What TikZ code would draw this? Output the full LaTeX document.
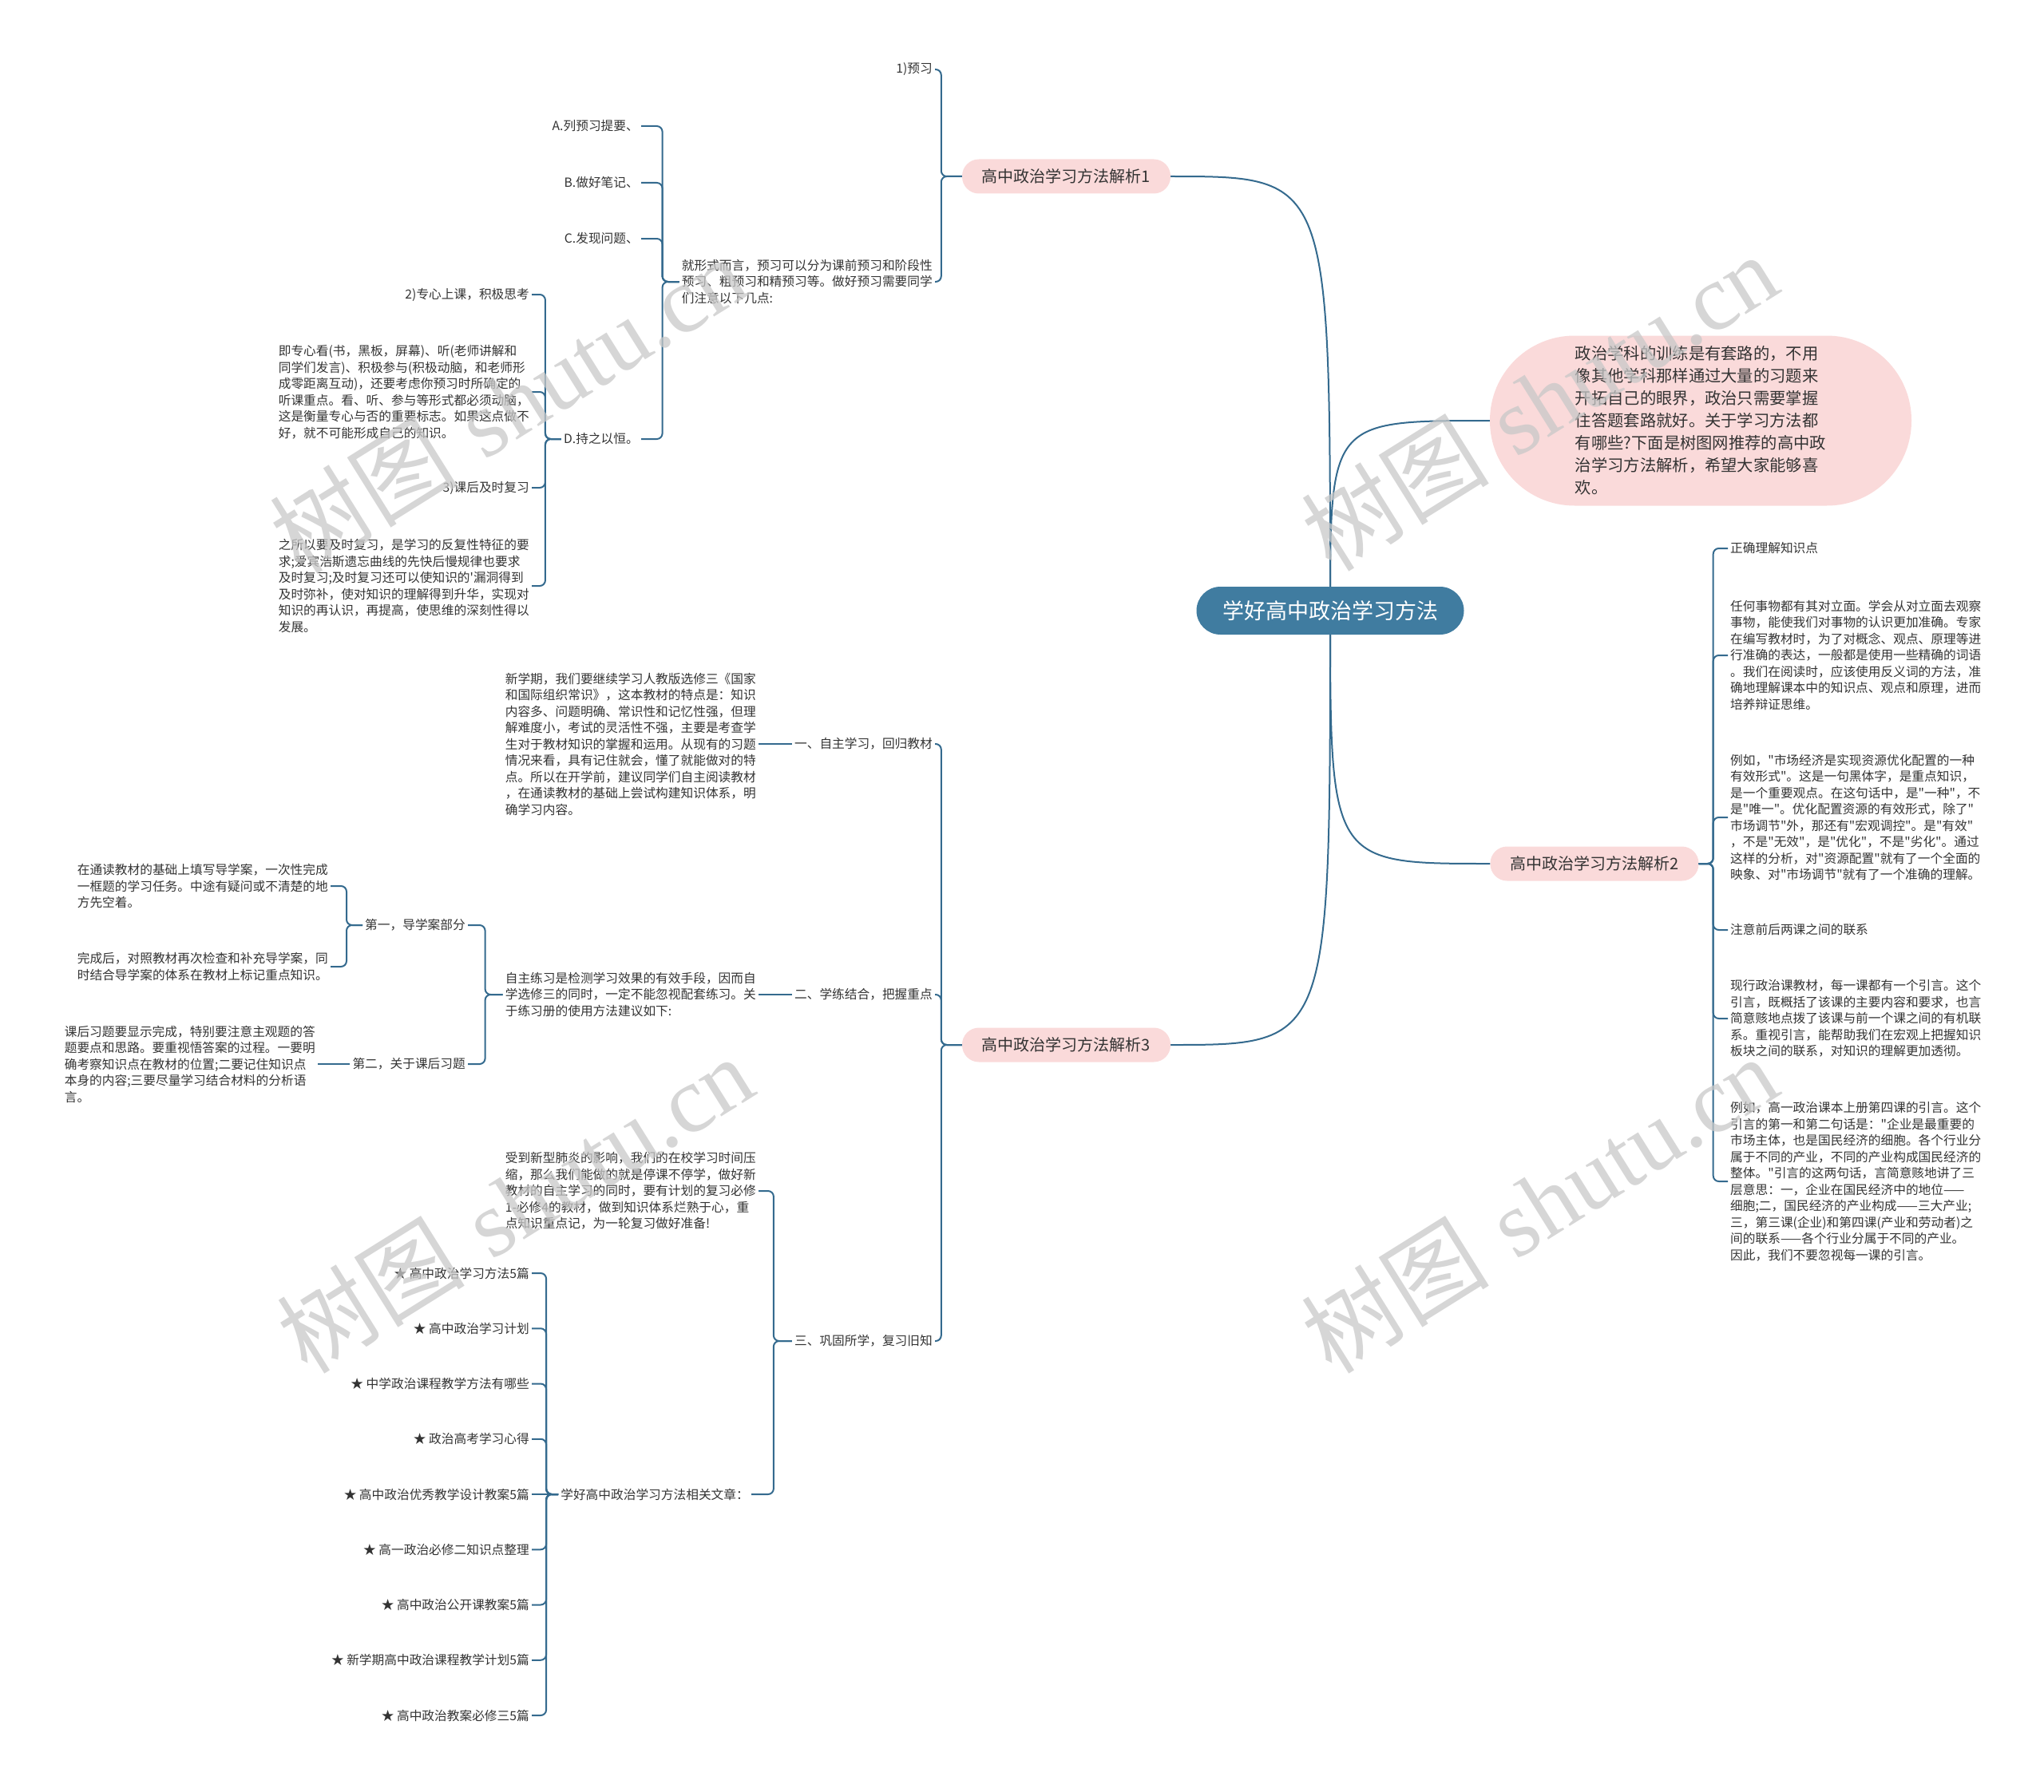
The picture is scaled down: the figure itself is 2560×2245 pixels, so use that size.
\documentclass[tikz,border=0pt]{standalone}
\usepackage{fontspec}
\newfontfamily\cjk{Noto Sans CJK SC}
\newfontfamily\wmlatin{Liberation Serif}
\usetikzlibrary{backgrounds}
\definecolor{linkblue}{RGB}{52,106,142}
\definecolor{rootblue}{RGB}{64,124,160}
\definecolor{pinkfill}{RGB}{250,218,218}
\definecolor{inkgray}{RGB}{51,51,51}
\definecolor{markgray}{RGB}{200,200,200}

\begin{document}
\begin{tikzpicture}[
  x=1pt, y=-1pt,
  root/.style={
    fill=rootblue, text=white, rounded corners=30pt,
    minimum width=335pt, minimum height=60pt, inner sep=0pt,
    font=\cjk\fontsize{27}{32}\selectfont
  },
  topic/.style={
    fill=pinkfill, text=inkgray, rounded corners=21pt,
    minimum width=261pt, minimum height=43pt, inner sep=0pt,
    font=\cjk\fontsize{20}{24}\selectfont
  },
  intro/.style={
    fill=pinkfill, text=inkgray, rounded corners=106pt,
    minimum width=528pt, minimum height=213pt, align=left,
    font=\cjk\fontsize{20.3}{28}\selectfont
  },
  txt/.style={
    text=inkgray, align=left, inner xsep=3pt, inner ysep=1pt,
    font=\cjk\fontsize{15.7}{20.5}\selectfont
  },
  ltxt/.style={txt, anchor=east},
  rtxt/.style={txt, anchor=west},
  link/.style={draw=linkblue, line width=2pt},
  brace/.style={link, rounded corners=7pt},
  wmark/.style={
    text=markgray, opacity=0.75, rotate=32,
    font=\cjk\fontsize{118}{118}\selectfont
  },
]

\useasboundingbox (0,0) rectangle (2560,2245);

% centre and main topics
\node[root] (root) at (1666,765) {学好高中政治学习方法};
\node[topic] (topicA) at (1335.5,221) {高中政治学习方法解析1};
\node[topic] (topicC) at (1335.5,1309) {高中政治学习方法解析3};
\node[topic] (topicB) at (1997,1082) {高中政治学习方法解析2};
\node[intro] (intro) at (2130,527) {
  政治学科的训练是有套路的，不用\\
  像其他学科那样通过大量的习题来\\
  开拓自己的眼界，政治只需要掌握\\
  住答题套路就好。关于学习方法都\\
  有哪些?下面是树图网推荐的高中政\\
  治学习方法解析，希望大家能够喜\\
  欢。
};

\begin{pgfonlayer}{background}
  \draw[link] (root.center) .. controls (root.center |- topicA.east) .. (topicA.east);
  \draw[link] (root.center) .. controls (root.center |- topicC.east) .. (topicC.east);
  \draw[link] (root.center) .. controls (root.center |- intro.west) .. (intro.west);
  \draw[link] (root.center) .. controls (root.center |- topicB.west) .. (topicB.west);
\end{pgfonlayer}

% topic 1
\node[ltxt] (preview) at (1171,87) {1)预习};
\node[ltxt] (preform) at (1171,353) {
  就形式而言，预习可以分为课前预习和阶段性\\
  预习、粗预习和精预习等。做好预习需要同学\\
  们注意以下几点:
};
\node[ltxt] (listA) at (803,158) {A.列预习提要、};
\node[ltxt] (listB) at (803,229) {B.做好笔记、};
\node[ltxt] (listC) at (803,299) {C.发现问题、};
\node[ltxt] (listD) at (803,550) {D.持之以恒。};
\node[ltxt] (focus) at (666,369) {2)专心上课，积极思考};
\node[ltxt] (focustext) at (666,491) {
  即专心看(书，黑板，屏幕)、听(老师讲解和\\
  同学们发言)、积极参与(积极动脑，和老师形\\
  成零距离互动)，还要考虑你预习时所确定的\\
  听课重点。看、听、参与等形式都必须动脑，\\
  这是衡量专心与否的重要标志。如果这点做不\\
  好，就不可能形成自己的知识。
};
\node[ltxt] (review) at (666,611) {3)课后及时复习};
\node[ltxt] (reviewtext) at (666,734) {
  之所以要及时复习，是学习的反复性特征的要\\
  求;爱宾浩斯遗忘曲线的先快后慢规律也要求\\
  及时复习;及时复习还可以使知识的'漏洞得到\\
  及时弥补，使对知识的理解得到升华，实现对\\
  知识的再认识，再提高，使思维的深刻性得以\\
  发展。
};

\draw[brace] (topicA.west) -- ++(-26,0) |- (preview.east);
\draw[brace] (topicA.west) -- ++(-26,0) |- (preform.east);
\draw[brace] (preform.west) -- ++(-21,0) |- (listA.east);
\draw[brace] (preform.west) -- ++(-21,0) |- (listB.east);
\draw[brace] (preform.west) -- ++(-21,0) |- (listC.east);
\draw[brace] (preform.west) -- ++(-21,0) |- (listD.east);
\draw[brace] (listD.west) -- ++(-20,0) |- (focus.east);
\draw[brace] (listD.west) -- ++(-20,0) |- (focustext.east);
\draw[brace] (listD.west) -- ++(-20,0) |- (review.east);
\draw[brace] (listD.west) -- ++(-20,0) |- (reviewtext.east);

% topic 3
\node[ltxt] (selfstudy) at (1171,932) {一、自主学习，回归教材};
\node[ltxt] (practice) at (1171,1246) {二、学练结合，把握重点};
\node[ltxt] (consolidate) at (1171,1680) {三、巩固所学，复习旧知};
\node[ltxt] (selftext) at (950,932) {
  新学期，我们要继续学习人教版选修三《国家\\
  和国际组织常识》，这本教材的特点是：知识\\
  内容多、问题明确、常识性和记忆性强，但理\\
  解难度小，考试的灵活性不强，主要是考查学\\
  生对于教材知识的掌握和运用。从现有的习题\\
  情况来看，具有记住就会，懂了就能做对的特\\
  点。所以在开学前，建议同学们自主阅读教材\\
  ，在通读教材的基础上尝试构建知识体系，明\\
  确学习内容。
};
\node[ltxt] (practext) at (950,1246) {
  自主练习是检测学习效果的有效手段，因而自\\
  学选修三的同时，一定不能忽视配套练习。关\\
  于练习册的使用方法建议如下:
};
\node[ltxt] (guide) at (586,1159) {第一，导学案部分};
\node[ltxt] (exercise) at (586,1333) {第二，关于课后习题};
\node[ltxt] (guidetextA) at (414,1110) {
  在通读教材的基础上填写导学案，一次性完成\\
  一框题的学习任务。中途有疑问或不清楚的地\\
  方先空着。
};
\node[ltxt] (guidetextB) at (414,1211) {
  完成后，对照教材再次检查和补充导学案，同\\
  时结合导学案的体系在教材上标记重点知识。
};
\node[ltxt] (exercisetext) at (398,1333) {
  课后习题要显示完成，特别要注意主观题的答\\
  题要点和思路。要重视悟答案的过程。一要明\\
  确考察知识点在教材的位置;二要记住知识点\\
  本身的内容;三要尽量学习结合材料的分析语\\
  言。
};
\node[ltxt] (revisetext) at (950,1492) {
  受到新型肺炎的影响，我们的在校学习时间压\\
  缩，那么我们能做的就是停课不停学，做好新\\
  教材的自主学习的同时，要有计划的复习必修\\
  1-必修4的教材，做到知识体系烂熟于心，重\\
  点知识重点记，为一轮复习做好准备!
};
\node[ltxt] (related) at (941,1872) {学好高中政治学习方法相关文章：};

\node[ltxt] (star1) at (666,1595) {★ 高中政治学习方法5篇};
\node[ltxt] (star2) at (666,1664.25) {★ 高中政治学习计划};
\node[ltxt] (star3) at (666,1733.5) {★ 中学政治课程教学方法有哪些};
\node[ltxt] (star4) at (666,1802.75) {★ 政治高考学习心得};
\node[ltxt] (star5) at (666,1872) {★ 高中政治优秀教学设计教案5篇};
\node[ltxt] (star6) at (666,1941.25) {★ 高一政治必修二知识点整理};
\node[ltxt] (star7) at (666,2010.5) {★ 高中政治公开课教案5篇};
\node[ltxt] (star8) at (666,2079.75) {★ 新学期高中政治课程教学计划5篇};
\node[ltxt] (star9) at (666,2149) {★ 高中政治教案必修三5篇};

\draw[brace] (topicC.west) -- ++(-26,0) |- (selfstudy.east);
\draw[brace] (topicC.west) -- ++(-26,0) |- (practice.east);
\draw[brace] (topicC.west) -- ++(-26,0) |- (consolidate.east);
\draw[link] (selfstudy.west) -- (selftext.east);
\draw[link] (practice.west) -- (practext.east);
\draw[brace] (practext.west) -- ++(-22,0) |- (guide.east);
\draw[brace] (practext.west) -- ++(-22,0) |- (exercise.east);
\draw[brace] (guide.west) -- ++(-20,0) |- (guidetextA.east);
\draw[brace] (guide.west) -- ++(-20,0) |- (guidetextB.east);
\draw[link] (exercise.west) -- (exercisetext.east);
\draw[brace] (consolidate.west) -- ++(-23,0) |- (revisetext.east);
\draw[brace] (consolidate.west) -- ++(-23,0) |- (related.east);
\draw[brace] (related.west) -- ++(-15,0) |- (star1.east);
\draw[brace] (related.west) -- ++(-15,0) |- (star2.east);
\draw[brace] (related.west) -- ++(-15,0) |- (star3.east);
\draw[brace] (related.west) -- ++(-15,0) |- (star4.east);
\draw[link] (related.west) -- (star5.east);
\draw[brace] (related.west) -- ++(-15,0) |- (star6.east);
\draw[brace] (related.west) -- ++(-15,0) |- (star7.east);
\draw[brace] (related.west) -- ++(-15,0) |- (star8.east);
\draw[brace] (related.west) -- ++(-15,0) |- (star9.east);

% topic 2
\node[rtxt] (knowA) at (2164,687) {正确理解知识点};
\node[rtxt] (knowAtext) at (2164,821) {
  任何事物都有其对立面。学会从对立面去观察\\
  事物，能使我们对事物的认识更加准确。专家\\
  在编写教材时，为了对概念、观点、原理等进\\
  行准确的表达，一般都是使用一些精确的词语\\
  。我们在阅读时，应该使用反义词的方法，准\\
  确地理解课本中的知识点、观点和原理，进而\\
  培养辩证思维。
};
\node[rtxt] (knowAexample) at (2164,1024) {
  例如，"市场经济是实现资源优化配置的一种\\
  有效形式"。这是一句黑体字，是重点知识，\\
  是一个重要观点。在这句话中，是"一种"，不\\
  是"唯一"。优化配置资源的有效形式，除了"\\
  市场调节"外，那还有"宏观调控"。是"有效"\\
  ，不是"无效"，是"优化"，不是"劣化"。通过\\
  这样的分析，对"资源配置"就有了一个全面的\\
  映象、对"市场调节"就有了一个准确的理解。
};
\node[rtxt] (linkB) at (2164,1165) {注意前后两课之间的联系};
\node[rtxt] (linkBtext) at (2164,1276) {
  现行政治课教材，每一课都有一个引言。这个\\
  引言，既概括了该课的主要内容和要求，也言\\
  简意赅地点拨了该课与前一个课之间的有机联\\
  系。重视引言，能帮助我们在宏观上把握知识\\
  板块之间的联系，对知识的理解更加透彻。
};
\node[rtxt] (linkBexample) at (2164,1480) {
  例如，高一政治课本上册第四课的引言。这个\\
  引言的第一和第二句话是："企业是最重要的\\
  市场主体，也是国民经济的细胞。各个行业分\\
  属于不同的产业，不同的产业构成国民经济的\\
  整体。"引言的这两句话，言简意赅地讲了三\\
  层意思：一，企业在国民经济中的地位——\\
  细胞;二，国民经济的产业构成——三大产业;\\
  三，第三课(企业)和第四课(产业和劳动者)之\\
  间的联系——各个行业分属于不同的产业。\\
  因此，我们不要忽视每一课的引言。
};

\draw[brace] (topicB.east) -- ++(18,0) |- (knowA.west);
\draw[brace] (topicB.east) -- ++(18,0) |- (knowAtext.west);
\draw[brace] (topicB.east) -- ++(18,0) |- (knowAexample.west);
\draw[brace] (topicB.east) -- ++(18,0) |- (linkB.west);
\draw[brace] (topicB.east) -- ++(18,0) |- (linkBtext.west);
\draw[brace] (topicB.east) -- ++(18,0) |- (linkBexample.west);

% watermarks
\node[wmark] (markA) at (636,506) {树图\hspace{0.3em}{\wmlatin shutu.cn}};
\node[wmark] (markB) at (1928,503) {树图\hspace{0.3em}{\wmlatin shutu.cn}};
\node[wmark] (markC) at (645,1508) {树图\hspace{0.3em}{\wmlatin shutu.cn}};
\node[wmark] (markD) at (1928,1508) {树图\hspace{0.3em}{\wmlatin shutu.cn}};

\end{tikzpicture}
\end{document}
